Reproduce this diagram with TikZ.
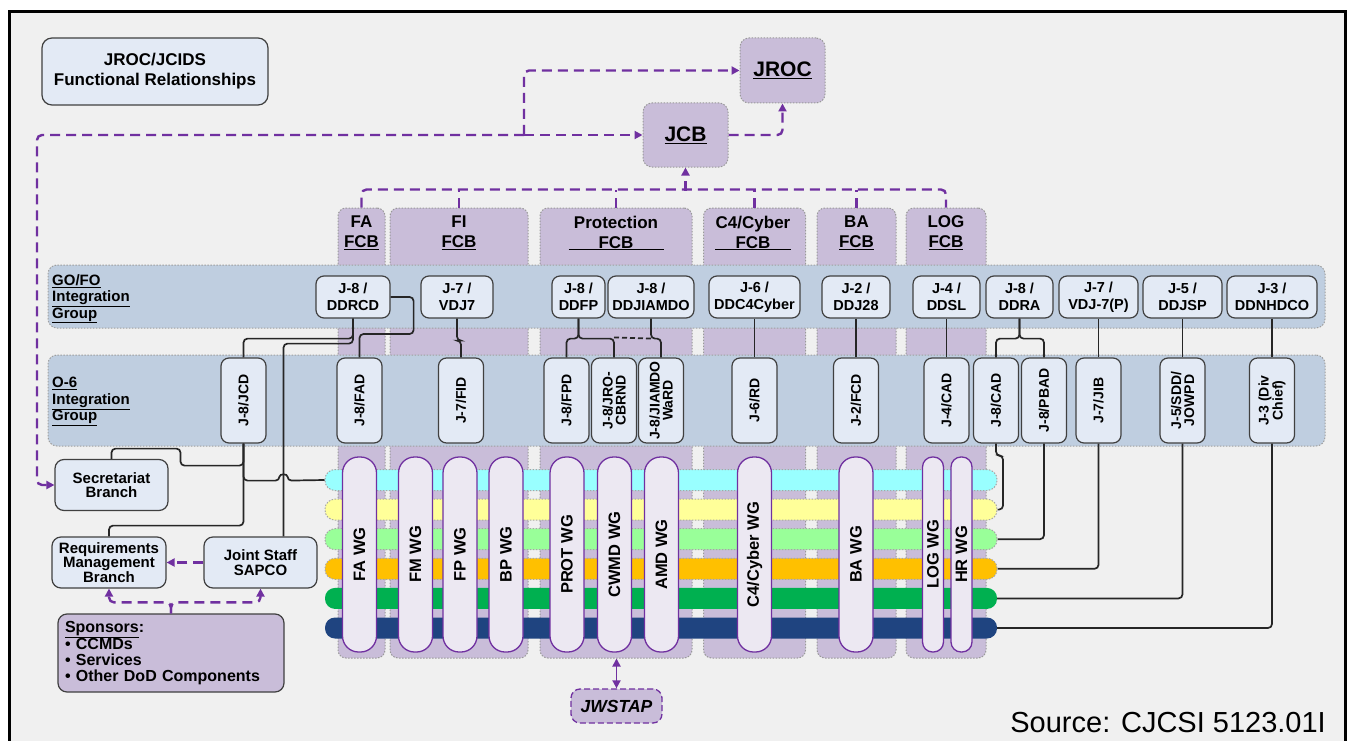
\documentclass[tikz,border=0pt]{standalone}
\usepackage{fontspec}
\setmainfont{Liberation Sans}
\usetikzlibrary{arrows.meta, calc, positioning}

\definecolor{jpurple}{HTML}{7030A0}
\definecolor{lav}{HTML}{C9BDD9}
\definecolor{boxblue}{HTML}{E3EAF5}
\definecolor{bandblue}{HTML}{BFCEE0}
\definecolor{pillfill}{HTML}{ECE8F2}
\definecolor{bgcol}{HTML}{F0F0F0}
\definecolor{scyan}{HTML}{99FFFF}
\definecolor{syel}{HTML}{FFFF99}
\definecolor{slgreen}{HTML}{99FF99}
\definecolor{sorange}{HTML}{FFC000}
\definecolor{sgreen}{HTML}{00B050}
\definecolor{snavy}{HTML}{1F4480}

\begin{document}
\begin{tikzpicture}[
    x=1pt, y=-1pt,
    % Styles
    titlebox/.style={rectangle, rounded corners=10pt, draw=black!75, line width=1.2pt, fill=boxblue, minimum width=226pt, minimum height=67pt, align=center, font=\fontsize{17}{20}\selectfont\bfseries},
    hdrbox/.style={rectangle, rounded corners=9pt, draw=gray!80, dash pattern=on 1.5pt off 1.5pt, line width=1pt, fill=lav, minimum width=85pt, inner sep=0pt, font=\fontsize{21}{24}\selectfont\bfseries},
    fcbcol/.style={rectangle, rounded corners=8pt, draw=gray!80, dash pattern=on 1.5pt off 1.5pt, line width=1pt, fill=lav, minimum width=#1, minimum height=450pt, inner sep=0pt},
    fcblabel/.style={align=center, inner sep=0pt, font=\fontsize{17}{20}\selectfont\bfseries},
    band/.style={rectangle, rounded corners=9pt, draw=gray!75, dash pattern=on 1.5pt off 1.5pt, line width=1pt, fill=bandblue, minimum width=1277pt, minimum height=#1},
    bandlabel/.style={anchor=north west, align=left, inner sep=0pt, font=\fontsize{15}{16.5}\selectfont\bfseries},
    gobox/.style={rectangle, rounded corners=8pt, draw=black!75, line width=1.2pt, fill=boxblue, minimum width=#1, minimum height=42pt, inner sep=1pt, align=center, font=\fontsize{14.5}{17}\selectfont\bfseries},
    obox/.style={rectangle, rounded corners=8pt, draw=black!75, line width=1.2pt, fill=boxblue, minimum width=85pt, minimum height=45pt, inner sep=1pt, rotate=90, align=center, font=\fontsize{14}{13}\selectfont\bfseries},
    branch/.style={rectangle, rounded corners=9pt, draw=black!75, line width=1.2pt, fill=boxblue, minimum width=#1, minimum height=51pt, inner sep=1pt, align=center, font=\fontsize{15}{14.3}\selectfont\bfseries},
    stripe/.style={rectangle, rounded corners=10pt, minimum width=672pt, minimum height=21pt, inner sep=0pt, fill=#1},
    dotedge/.style={draw=gray!70, dash pattern=on 1.5pt off 1.5pt, line width=1pt},
    wgpill/.style={rectangle, rounded corners=16pt, draw=jpurple, line width=1.3pt, fill=pillfill, minimum width=195pt, minimum height=34pt, inner sep=0pt, rotate=90, font=\fontsize{16.5}{18}\selectfont\bfseries},
    narrow/.style={minimum height=21pt, rounded corners=10pt},
    dashline/.style={draw=jpurple, line width=2.4pt, dash pattern=on 10pt off 6pt, rounded corners=5pt},
    dasharrow/.style={dashline, -{Triangle[length=8pt, width=8pt]}},
    wire/.style={draw=black!85, line width=1.7pt, rounded corners=4pt}
]
    \useasboundingbox (0,0) rectangle (1349,741);
    \fill[white] (0,0) rectangle (1349,741);
    \draw[line width=3pt, fill=bgcol] (9,12) rectangle (1345,760);

    % Title
    \node[titlebox] (title) at (155,71.5) {JROC/JCIDS\\Functional Relationships};

    % Boards
    \node[hdrbox, minimum height=65pt] (jroc) at (782.5,70.5) {\underline{JROC}};
    \node[hdrbox, minimum height=64pt] (jcb) at (685.5,135) {\underline{JCB}};

    % FCB columns
    \node[fcbcol=47pt] (colfa) at (361.5,433) {};
    \node[fcbcol=138pt] (colfi) at (459,433) {};
    \node[fcbcol=152pt] (colprot) at (616,433) {};
    \node[fcbcol=102pt] (colcyb) at (754.5,433) {};
    \node[fcbcol=79pt] (colba) at (856.5,433) {};
    \node[fcbcol=80pt] (collog) at (946,433) {};

    \node[fcblabel] (fcbfa) at (361.5,233) {FA\\\underline{FCB}};
    \node[fcblabel] (fcbfi) at (459,233) {FI\\\underline{FCB}};
    \node[fcblabel] (fcbprot) at (616,233) {Protection\\\underline{\hbox to 95pt{\hfil FCB\hfil}}};
    \node[fcblabel] (fcbcyb) at (753,233) {C4/Cyber\\\underline{\hbox to 76pt{\hfil FCB\hfil}}};
    \node[fcblabel] (fcbba) at (856.5,233) {BA\\\underline{FCB}};
    \node[fcblabel] (fcblog) at (946,233) {LOG\\\underline{FCB}};

    % Integration groups
    \node[band=63pt] (gofo) at (686.5,296.5) {};
    \node[band=91pt] (osix) at (686.5,400.5) {};
    \node[bandlabel] (gofolbl) at (52,274) {\underline{GO/FO}\\\underline{Integration}\\\underline{Group}};
    \node[bandlabel] (osixlbl) at (52,377) {\underline{O-6}\\\underline{Integration}\\\underline{Group}};

    % WG stripes
    \node[stripe=scyan, dotedge] (strcyan) at (661,480) {};
    \node[stripe=syel, dotedge] (stryel) at (661,509.6) {};
    \node[stripe=slgreen, dotedge] (strlg) at (661,539.2) {};
    \node[stripe=sorange, dotedge] (strora) at (661,568.8) {};
    \node[stripe=sgreen] (strgrn) at (661,598.4) {};
    \node[stripe=snavy] (strnav) at (661,628) {};

    % Working groups
    \node[wgpill] (fawg) at (359.5,554.5) {FA WG};
    \node[wgpill] (fmwg) at (415.5,554.5) {FM WG};
    \node[wgpill] (fpwg) at (460,554.5) {FP WG};
    \node[wgpill] (bpwg) at (506,554.5) {BP WG};
    \node[wgpill] (protwg) at (567,554.5) {PROT WG};
    \node[wgpill] (cwmdwg) at (614.5,554.5) {CWMD WG};
    \node[wgpill] (amdwg) at (661.5,554.5) {AMD WG};
    \node[wgpill] (cybwg) at (754.5,554.5) {C4/Cyber WG};
    \node[wgpill] (bawg) at (856,554.5) {BA WG};
    \node[wgpill, narrow] (logwg) at (933,554.5) {LOG WG};
    \node[wgpill, narrow] (hrwg) at (961.5,554.5) {HR WG};

    % GO/FO boxes
    \node[gobox=74pt] (ddrcd) at (353,297) {J-8 /\\DDRCD};
    \node[gobox=72pt] (vdj7) at (457,297) {J-7 /\\VDJ7};
    \node[gobox=53pt] (ddfp) at (578.5,297) {J-8 /\\DDFP};
    \node[gobox=86pt] (ddjiamdo) at (651,297) {J-8 /\\DDJIAMDO};
    \node[gobox=91pt] (ddc4) at (754.5,297) {J-6 /\\DDC4Cyber};
    \node[gobox=68pt] (ddj28) at (856,297) {J-2 /\\DDJ28};
    \node[gobox=67pt] (ddsl) at (946.5,297) {J-4 /\\DDSL};
    \node[gobox=67pt] (ddra) at (1019.5,297) {J-8 /\\DDRA};
    \node[gobox=79pt] (vdj7p) at (1098.5,297) {J-7 /\\VDJ-7(P)};
    \node[gobox=79pt] (ddjsp) at (1182.5,297) {J-5 /\\DDJSP};
    \node[gobox=90pt] (ddnhdco) at (1272,297) {J-3 /\\DDNHDCO};

    % O-6 boxes
    \node[obox] (jcd) at (243.5,400.5) {J-8/JCD};
    \node[obox] (fad) at (359.5,400.5) {J-8/FAD};
    \node[obox] (fid) at (461,400.5) {J-7/FID};
    \node[obox] (fpd) at (566.5,400.5) {J-8/FPD};
    \node[obox] (jro) at (614,400.5) {J-8/JRO-\\CBRND};
    \node[obox] (jiamdo) at (661,400.5) {J-8/JIAMDO\\WaRD};
    \node[obox] (rd) at (754.5,400.5) {J-6/RD};
    \node[obox] (fcd) at (856,400.5) {J-2/FCD};
    \node[obox] (cad4) at (946.5,400.5) {J-4/CAD};
    \node[obox] (cad8) at (996,400.5) {J-8/CAD};
    \node[obox] (pbad) at (1044,400.5) {J-8/PBAD};
    \node[obox] (jib) at (1098.5,400.5) {J-7/JIB};
    \node[obox] (sdd) at (1182.5,400.5) {J-5/SDD/\\JOWPD};
    \node[obox] (jthree) at (1272,400.5) {J-3 (Div\\Chief)};

    % Branches and sponsors
    \node[branch=113pt] (sec) at (111.5,485) {Secretariat\\Branch};
    \node[branch=114pt] (rmb) at (109,562.5) {Requirements\\Management\\Branch};
    \node[branch=113pt] (sapco) at (260.5,562.5) {Joint Staff\\SAPCO};
    \node[rectangle, rounded corners=9pt, draw=black!75, line width=1.2pt, fill=lav, minimum width=226pt, minimum height=78pt, align=left, text width=212pt, font=\fontsize{16}{16}\selectfont\bfseries] (spons) at (171,653)
        {\underline{Sponsors}:\\\textbullet\ CCMDs\\\textbullet\ Services\\\textbullet\ Other DoD Components};
    \node[rectangle, rounded corners=9pt, draw=jpurple, line width=1.3pt, dash pattern=on 6pt off 3pt, fill=lav, minimum width=91pt, minimum height=34pt, font=\fontsize{17.5}{20}\selectfont\bfseries\itshape] (jwstap) at (616.5,706) {JWSTAP};

    % GO/FO to O-6 lines
    \draw[wire] (ddrcd.south) -- ++(0,20) -| (jcd.east);
    \draw[wire] (ddrcd.south) -- ++(0,25) -| ([xshift=23pt]sapco.north);
    \draw[wire] (ddrcd.east) -- ++(23,0) -- ++(0,37) -| (fad.east);
    \draw[wire] (vdj7.south) -- ++(0,22) -| (fid.east);
    \draw[wire] (ddfp.south) -- ++(0,20) -| (fpd.east);
    \draw[wire] (ddfp.south) -- ++(0,20) -| (jro.east);
    \draw[wire, dash pattern=on 5pt off 3pt] ($(jro.east)+(0,-20)$) -- ($(ddjiamdo.south)+(0,20)$);
    \draw[wire] (ddjiamdo.south) -- ++(0,20) -| (jiamdo.east);
    \draw[wire] (ddra.south) -- ++(0,20) -| (cad8.east);
    \draw[wire] (ddra.south) -- ++(0,20) -| (pbad.east);
    \foreach \a/\b in {ddc4/rd, ddj28/fcd, ddsl/cad4, vdj7p/jib, ddjsp/sdd, ddnhdco/jthree}
        \draw[wire] (\a.south) -- (\b.east);

    % O-6 to branches and stripes
    \draw[wire] (jcd.west) -- ++(0,22) -- ++(-63,0) -- ++(0,-17) -| (sec.north);
    \draw[wire] (jcd.west) -- ++(0,37) -- ++(36,0) .. controls +(0,-7) and +(0,-7) .. ++(8,0) -- (strcyan.west);
    \draw[wire] (jcd.west) -- ++(0,82) -| (rmb.north);
    \draw[wire] (cad8.west) -- ++(0,12) -- ++(7,0) |- (stryel.east);
    \draw[wire] (pbad.west) |- (strlg.east);
    \draw[wire] (jib.west) |- (strora.east);
    \draw[wire] (sdd.west) |- (strgrn.east);
    \draw[wire] (jthree.west) |- (strnav.east);

    % Dashed reporting lines
    \coordinate (split) at (524,135);
    \coordinate (lftbend) at (37,135);
    \draw[dasharrow] (split) -- (jcb.west);
    \draw[dasharrow] (split) |- (jroc.west);
    \draw[dasharrow] (split) -- (lftbend) |- (sec.west);
    \draw[dasharrow] (jcb.east) -| (jroc.south);
    \draw[dashline] (colfa.north) -- ++(0,-18) -| (collog.north);
    \foreach \c in {colfi, colprot, colcyb, colba}
        \draw[dashline] (\c.north) -- ++(0,-18);
    \draw[dasharrow] ($(jcb.south)+(0,23)$) -- (jcb.south);
    \draw[dasharrow] (spons.north) -- ++(0,-11) -| (rmb.south);
    \draw[dasharrow] (spons.north) -- ++(0,-11) -| (sapco.south);
    \draw[dasharrow] (sapco.west) -- (rmb.east);
    \draw[jpurple, line width=1.8pt, {Triangle[length=8pt, width=8pt]}-{Triangle[length=8pt, width=8pt]}] (jwstap.north) -- (jwstap.north |- colprot.south);

    % Source
    \node[anchor=base east, inner sep=0pt, font=\fontsize{29}{32}\selectfont] (src) at (1326,732) {Source: CJCSI 5123.01I};
\end{tikzpicture}
\end{document}
